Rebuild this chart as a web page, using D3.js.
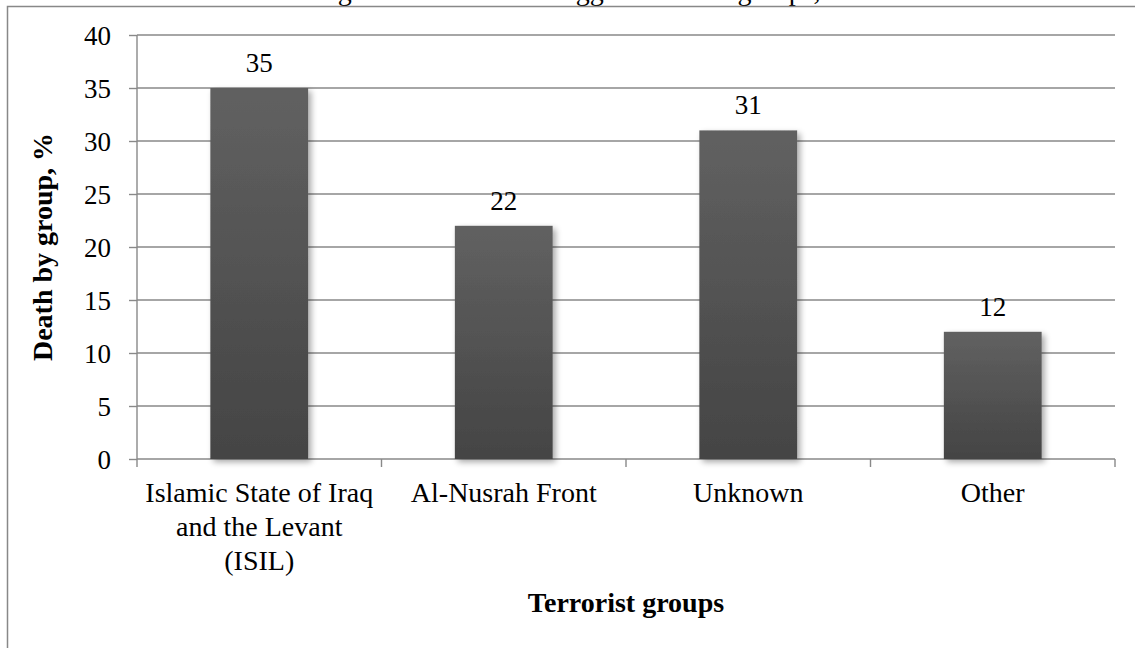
<!DOCTYPE html>
<html><head><meta charset="utf-8">
<script src="https://cdn.jsdelivr.net/npm/d3@7"></script>
<style>body{margin:0;background:#fff}svg{display:block}text{font-family:"Liberation Serif","Times New Roman",serif;fill:#000}</style>
</head><body>
<svg id="c" width="1135" height="648"></svg>
<script>
const categories = [["Islamic State of Iraq","and the Levant","(ISIL)"],["Al-Nusrah Front"],["Unknown"],["Other"]];
const values = [35, 22, 31, 12];
const yTicks = [0,5,10,15,20,25,30,35,40];
const titleText = "Killings attributed to the biggest terrorist groups, 2015";
const yTitle = "Death by group, %";
const xTitle = "Terrorist groups";

const svg = d3.select("#c");
const L = 137, R = 1115, T = 35, B = 459;
const x = d3.scaleBand().domain(d3.range(categories.length)).range([L, R]).paddingInner(0.6).paddingOuter(0.3);
const xb = d3.scaleBand().domain(d3.range(categories.length)).range([L, R]);
const y = d3.scaleLinear().domain([0, 40]).range([B, T]);

const defs = svg.append("defs");
const g = defs.append("linearGradient").attr("id","bg").attr("x1",0).attr("y1",0).attr("x2",0).attr("y2",1);
g.append("stop").attr("offset","0%").attr("stop-color","#616161");
g.append("stop").attr("offset","100%").attr("stop-color","#444444");
const f = defs.append("filter").attr("id","sh").attr("x","-20%").attr("y","-10%").attr("width","150%").attr("height","130%");
f.append("feGaussianBlur").attr("in","SourceAlpha").attr("stdDeviation",3).attr("result","b");
f.append("feOffset").attr("in","b").attr("dx",3).attr("dy",3).attr("result","o");
f.append("feComponentTransfer").attr("in","o").attr("result","oa").append("feFuncA").attr("type","linear").attr("slope",0.35);
const m = f.append("feMerge"); m.append("feMergeNode").attr("in","oa"); m.append("feMergeNode").attr("in","SourceGraphic");

// title (cut off at top, as in the reference)
svg.append("text").attr("x", 578).attr("y", -0.5).attr("text-anchor","middle").style("font-size","28px").text(titleText);

// border
svg.append("rect").attr("x",7.5).attr("y",6.5).attr("width",1200).attr("height",700).attr("fill","none").attr("stroke","#888").attr("stroke-width",1.5);

// gridlines
svg.append("g").selectAll("line").data(yTicks.filter(d=>d>0)).join("line")
  .attr("x1", L).attr("x2", R).attr("y1", d=>y(d)).attr("y2", d=>y(d))
  .attr("stroke","#898989").attr("stroke-width",1.4);

// y axis
const ya = svg.append("g").attr("transform",`translate(${L},0)`).call(d3.axisLeft(y).tickValues(yTicks).tickSize(8).tickPadding(18));
ya.select(".domain").attr("stroke","#898989").attr("stroke-width",1.4).attr("d",`M0,${T}V${B}`);
ya.selectAll(".tick line").attr("stroke","#898989").attr("stroke-width",1.4);
ya.selectAll(".tick text").style("font-size","27px").style("font-family","Liberation Serif").attr("dy","0.34em");

// x axis
const xa = svg.append("g").attr("transform",`translate(0,${B})`);
xa.append("line").attr("x1",L).attr("x2",R).attr("y1",0).attr("y2",0).attr("stroke","#898989").attr("stroke-width",1.4);
xa.selectAll("line.t").data(d3.range(categories.length+1)).join("line").attr("class","t")
  .attr("x1", i=> i<categories.length ? xb(i) : R).attr("x2", i=> i<categories.length ? xb(i) : R)
  .attr("y1",0).attr("y2",8).attr("stroke","#898989").attr("stroke-width",1.4);

// bars
svg.append("g").selectAll("rect").data(values).join("rect")
  .attr("x",(d,i)=>x(i)).attr("width",x.bandwidth()).attr("y",d=>y(d)).attr("height",d=>y(0)-y(d))
  .attr("fill","url(#bg)").attr("filter","url(#sh)");

// value labels
svg.append("g").selectAll("text").data(values).join("text")
  .attr("x",(d,i)=>x(i)+x.bandwidth()/2).attr("y",d=>y(d)-16).attr("text-anchor","middle")
  .style("font-size","27px").text(d=>d);

// category labels
const cl = svg.append("g").selectAll("text").data(categories).join("text")
  .attr("x",(d,i)=>xb(i)+xb.bandwidth()/2).attr("y",502).attr("text-anchor","middle").style("font-size","28px");
cl.selectAll("tspan").data(d=>d).join("tspan")
  .attr("x",function(){return this.parentNode.getAttribute("x");}).attr("dy",(d,i)=>i===0?0:34).text(d=>d);

// axis titles
svg.append("text").attr("transform",`translate(52,${(T+B)/2}) rotate(-90)`).attr("text-anchor","middle")
  .style("font-size","28px").style("font-weight","bold").text(yTitle);
svg.append("text").attr("x",(L+R)/2).attr("y",612).attr("text-anchor","middle")
  .style("font-size","28px").style("font-weight","bold").text(xTitle);
</script>
</body></html>
